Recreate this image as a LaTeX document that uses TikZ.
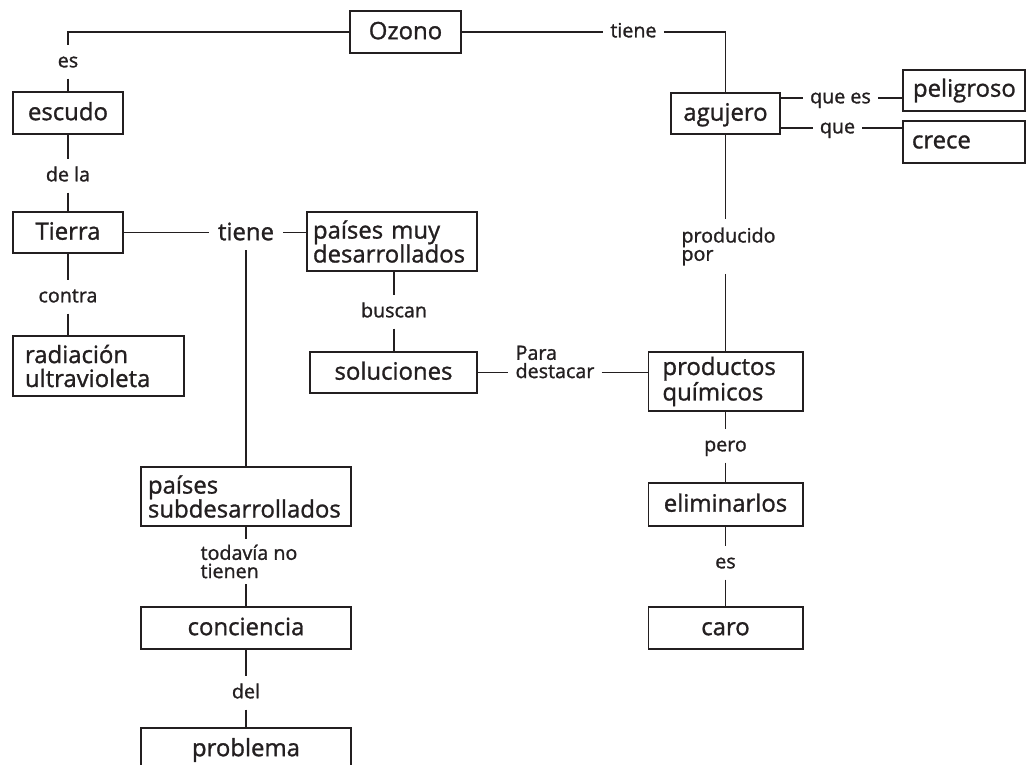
\documentclass[tikz,border=0pt]{standalone}
\usepackage{fontspec}
\setmainfont{Open Sans}[UprightFeatures={FakeBold=1.2}]
\definecolor{ink}{HTML}{231F20}
\newcommand\boxfont{\fontsize{17}{17}\selectfont}
\newcommand\labfont{\fontsize{14}{13}\selectfont}
\begin{document}
\begin{tikzpicture}[x=0.025cm,y=-0.025cm,line width=1.4pt,draw=ink,text=ink,
  box/.style={draw,inner sep=0,font=\boxfont,text height=12.6pt,text depth=2.4pt},
  mbox/.style={draw,inner ysep=0,font=\boxfont,align=left},
  lab/.style={font=\labfont,inner xsep=4.5pt,inner ysep=4.5pt,text height=10.4pt,text depth=2.8pt},
  mlab/.style={font=\labfont,inner xsep=4.5pt,inner ysep=0,align=left}]
\useasboundingbox (0,0) rectangle (1032,764);
\clip (0,0) rectangle (1032,764);
% boxes
\node[box,minimum width=2.775cm,minimum height=1.05cm] (ozono) at (405.5,32) {Ozono};
\node[box,minimum width=2.75cm,minimum height=1.05cm] (escudo) at (68,113) {escudo};
\node[box,minimum width=2.75cm,minimum height=1.025cm] (tierra) at (68,232.5) {Tierra};
\node[mbox,inner xsep=0.3cm,text width=3.675cm,minimum height=1.5cm] (radiacion) at (98.5,366) {radiación\\ultravioleta};
\node[mbox,inner xsep=0.15cm,text width=3.95cm,minimum height=1.475cm] (muydes) at (392,241.5) {países muy\\desarrollados};
\node[box,minimum width=4.175cm,minimum height=1.025cm] (soluciones) at (393.5,372.5) {soluciones};
\node[mbox,inner xsep=0.175cm,text width=4.9cm,minimum height=1.475cm] (subdes) at (246,496.5) {países\\subdesarrollados};
\node[box,minimum width=5.25cm,minimum height=1.05cm] (conciencia) at (246,628) {conciencia};
\node[box,minimum width=5.25cm,minimum height=1.05cm] (problema) at (246,749) {problema};
\node[box,minimum width=2.725cm,minimum height=1.025cm] (agujero) at (725.5,113.5) {agujero};
\node[mbox,inner xsep=0.25cm,text width=2.55cm,minimum height=1.025cm] (peligroso) at (964,90.5) {peligroso};
\node[mbox,inner xsep=0.225cm,text width=2.6cm,minimum height=1.05cm] (crece) at (964,142) {crece};
\node[mbox,inner xsep=0.35cm,text width=3.15cm,minimum height=1.475cm] (productos) at (725.5,381.5) {productos\\químicos};
\node[box,minimum width=3.85cm,minimum height=1.075cm] (eliminarlos) at (725.5,504.5) {eliminarlos};
\node[box,minimum width=3.85cm,minimum height=1.05cm] (caro) at (725.5,628) {caro};
% labels
\node[lab] (lEs) at (68,62) {es};
\node[lab] (lDela) at (68,176) {de la};
\node[lab] (lContra) at (68,297) {contra};
\node[lab] (lTiene) at (633.5,32) {tiene};
\node[lab] (lQueEs) at (840.5,98) {que es};
\node[lab] (lQue) at (837.5,128) {que};
\node[lab,font=\boxfont,inner xsep=6pt,inner ysep=4pt,text height=12.6pt,text depth=2.4pt] (lTieneT) at (246,233) {tiene};
\node[lab] (lBuscan) at (394,312) {buscan};
\node[mlab,inner xsep=4.5pt] (lPara) at (555,362) {Para\\destacar};
\node[mlab,minimum height=1.325cm] (lProducido) at (728.5,246.5) {producido\\por};
\node[lab] (lPero) at (725.5,446) {pero};
\node[lab] (lEs2) at (725.5,563) {es};
\node[mlab,minimum height=1.075cm] (lTodavia) at (249,561.5) {todavía no\\tienen};
\node[lab] (lDel) at (246,693) {del};
% connectors
\draw (ozono.west) -| (lEs);
\draw (lEs) -- (escudo);
\draw (escudo) -- (lDela);
\draw (lDela) -- (tierra);
\draw (tierra) -- (lContra);
\draw (lContra) -- (radiacion.north -| tierra);
\draw (ozono) -- (lTiene) -| (agujero);
\draw (agujero.east |- lQueEs) -- (lQueEs) -- (lQueEs -| peligroso.west);
\draw (agujero.east |- lQue) -- (lQue) -- (lQue -| crece.west);
\draw (tierra.east) -- (tierra.east -| lTieneT.west);
\draw (lTieneT.east |- tierra.east) -- (muydes.west |- tierra.east);
\draw (lTieneT) -- (subdes);
\draw (muydes.south -| lBuscan) -- (lBuscan);
\draw (lBuscan) -- (soluciones.north -| lBuscan);
\draw (soluciones.east) -- (soluciones.east -| lPara.west);
\draw (lPara.east |- soluciones.east) -- (productos.west |- soluciones.east);
\draw (agujero) -- (lProducido.north -| agujero);
\draw (lProducido.south -| agujero) -- (productos);
\draw (productos) -- (lPero);
\draw (lPero) -- (eliminarlos);
\draw (eliminarlos) -- (lEs2);
\draw (lEs2) -- (caro);
\draw (subdes) -- (lTodavia.north -| subdes);
\draw (lTodavia.south -| subdes) -- (conciencia);
\draw (conciencia) -- (lDel);
\draw (lDel) -- (problema);
\end{tikzpicture}
\end{document}
